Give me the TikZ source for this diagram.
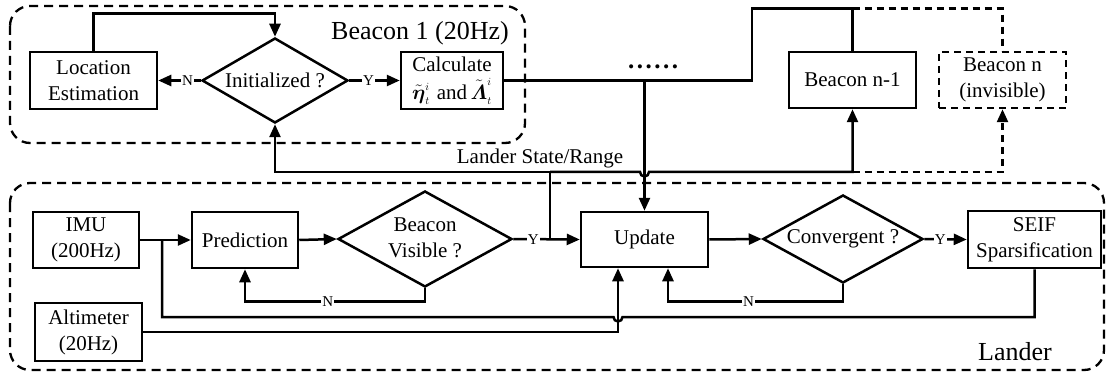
\documentclass[tikz,border=0pt]{standalone}
\usepackage{amsmath}
\usepackage{fontspec}
\setmainfont{Liberation Serif}
\usetikzlibrary{shapes.geometric,arrows.meta}

\begin{document}
\begin{tikzpicture}[x=1pt,y=-1pt,
  line width=2.5pt,
  base/.style={font=\fontsize{21}{26}\selectfont},
  box/.style={base, draw, rectangle, align=center, inner sep=0pt},
  dbox/.style={box, dash pattern=on 7pt off 5pt},
  dia/.style={base, draw, diamond, inner sep=0pt},
  grp/.style={draw, dash pattern=on 9pt off 6pt, rounded corners=20pt, line width=2.3pt},
  arr/.style={-{Triangle[length=13pt,width=11pt]}},
  dline/.style={dash pattern=on 7pt off 5pt},
  yn/.style={font=\fontsize{15}{15}\selectfont, fill=white, inner sep=1pt},
  title/.style={font=\fontsize{26}{30}\selectfont},
  ]
\useasboundingbox (0,0) rectangle (1107,374);

% group frames
\draw[grp] (10,6) rectangle (525,143);
\draw[grp] (10,183) rectangle (1104,370);
\node[title] (t1) at (420,33) {Beacon 1 (20Hz)};
\node[title] (t2) at (1015,352) {Lander};

% beacon side
\node[box, minimum width=127pt, minimum height=57pt] (loc) at (93.5,80.5) {Location\\Estimation};
\node[dia, minimum width=146pt, minimum height=85pt] (init) at (275,80.5) {\makebox[0pt]{Initialized ?}};
\node[box, minimum width=102pt, minimum height=57pt] (calc) at (452,80.5)
  {Calculate\\[2pt]$\tilde{\boldsymbol{\eta}}_{\scriptscriptstyle t}^{\scriptscriptstyle i}$\,\,and\,%
   $\tilde{\boldsymbol{\varLambda}}_{\scriptscriptstyle t}^{\scriptscriptstyle i}$};
\node[box, minimum width=127pt, minimum height=56pt] (bn1) at (852.5,80) {Beacon n-1};
\node[dbox, minimum width=127pt, minimum height=56pt] (bn) at (1002.5,80) {Beacon n\\(invisible)};
\node[font=\fontsize{25}{25}\selectfont\bfseries] (dots) at (653,67)
  {.\hspace{2.5pt}.\hspace{2.5pt}.\hspace{2.5pt}.\hspace{2.5pt}.\hspace{2.5pt}.};

% lander side
\node[box, minimum width=106pt, minimum height=56pt] (imu) at (86,240) {IMU\\(200Hz)};
\node[box, minimum width=107pt, minimum height=58pt] (alt) at (88.5,332) {Altimeter\\(20Hz)};
\node[box, minimum width=106pt, minimum height=56pt] (pred) at (245,240) {Prediction};
\node[dia, minimum width=174pt, minimum height=96pt] (bv) at (425,239)
  {\makebox[0pt]{\begin{tabular}{@{}c@{}}Beacon\\Visible ?\end{tabular}}};
\node[box, minimum width=127pt, minimum height=55pt] (upd) at (644.5,239.5) {Update};
\node[dia, minimum width=160pt, minimum height=88pt] (conv) at (843,239) {\makebox[0pt]{Convergent ?}};
\node[box, minimum width=133pt, minimum height=57pt] (seif) at (1034.5,239.5) {SEIF\\Sparsification};

% beacon connectors
\draw[arr] (loc.north) -- ++(0,-37) -| (init.north);
\draw[arr] (init.west) -- node[yn,pos=0.31]{N} (loc.east);
\draw[arr] (init.east) -- node[yn,pos=0.38]{Y} (calc.west);
\coordinate (cb) at (752,80.5);
\coordinate (jd) at (644.5,80.5);
\coordinate (ls) at (550,172);
\draw (calc.east) -- (cb) |- ([yshift=42pt]bn1.north) -- (bn1.north);
\draw[dline] ([yshift=42pt]bn1.north) -| (bn.north);
\draw[arr] (jd) -- (upd.north);

% lander state / range feed
\coordinate (jy) at (550,239.5);
\draw[arr] (jy) |- (init.south |- ls) -- (init.south);
\draw[arr] (ls) -- ([xshift=-4.5pt]jd |- ls) arc[start angle=180,end angle=360,radius=4.5pt]
  -- (bn1.south |- ls) -- (bn1.south);
\draw[arr, dline] (bn1.south |- ls) -| (bn.south);
\node[base] (lsr) at (540,158) {Lander State/Range};

% lander connectors
\coordinate (ji) at (162,240);
\coordinate (bus) at (613.5,317);
\draw[arr] (imu.east) -- (pred.west);
\draw (ji) |- (bus) arc[start angle=180,end angle=360,radius=4.5pt] -| (seif.south);
\draw[arr] (alt.east) -| ([xshift=-26.5pt]upd.south);
\draw[arr] (pred.east) -- (bv.west);
\draw[arr] (bv.south) -- ++(0,13) -| node[yn,pos=0.27]{N} (pred.south);
\draw[arr] (bv.east) -- node[yn,pos=0.3]{Y} (upd.west);
\draw[arr] (upd.east) -- (conv.west);
\draw[arr] (conv.south) -- ++(0,17) -| node[yn,pos=0.27]{N} ([xshift=23.5pt]upd.south);
\draw[arr] (conv.east) -- node[yn,pos=0.38]{Y} (seif.west);
\end{tikzpicture}
\end{document}
